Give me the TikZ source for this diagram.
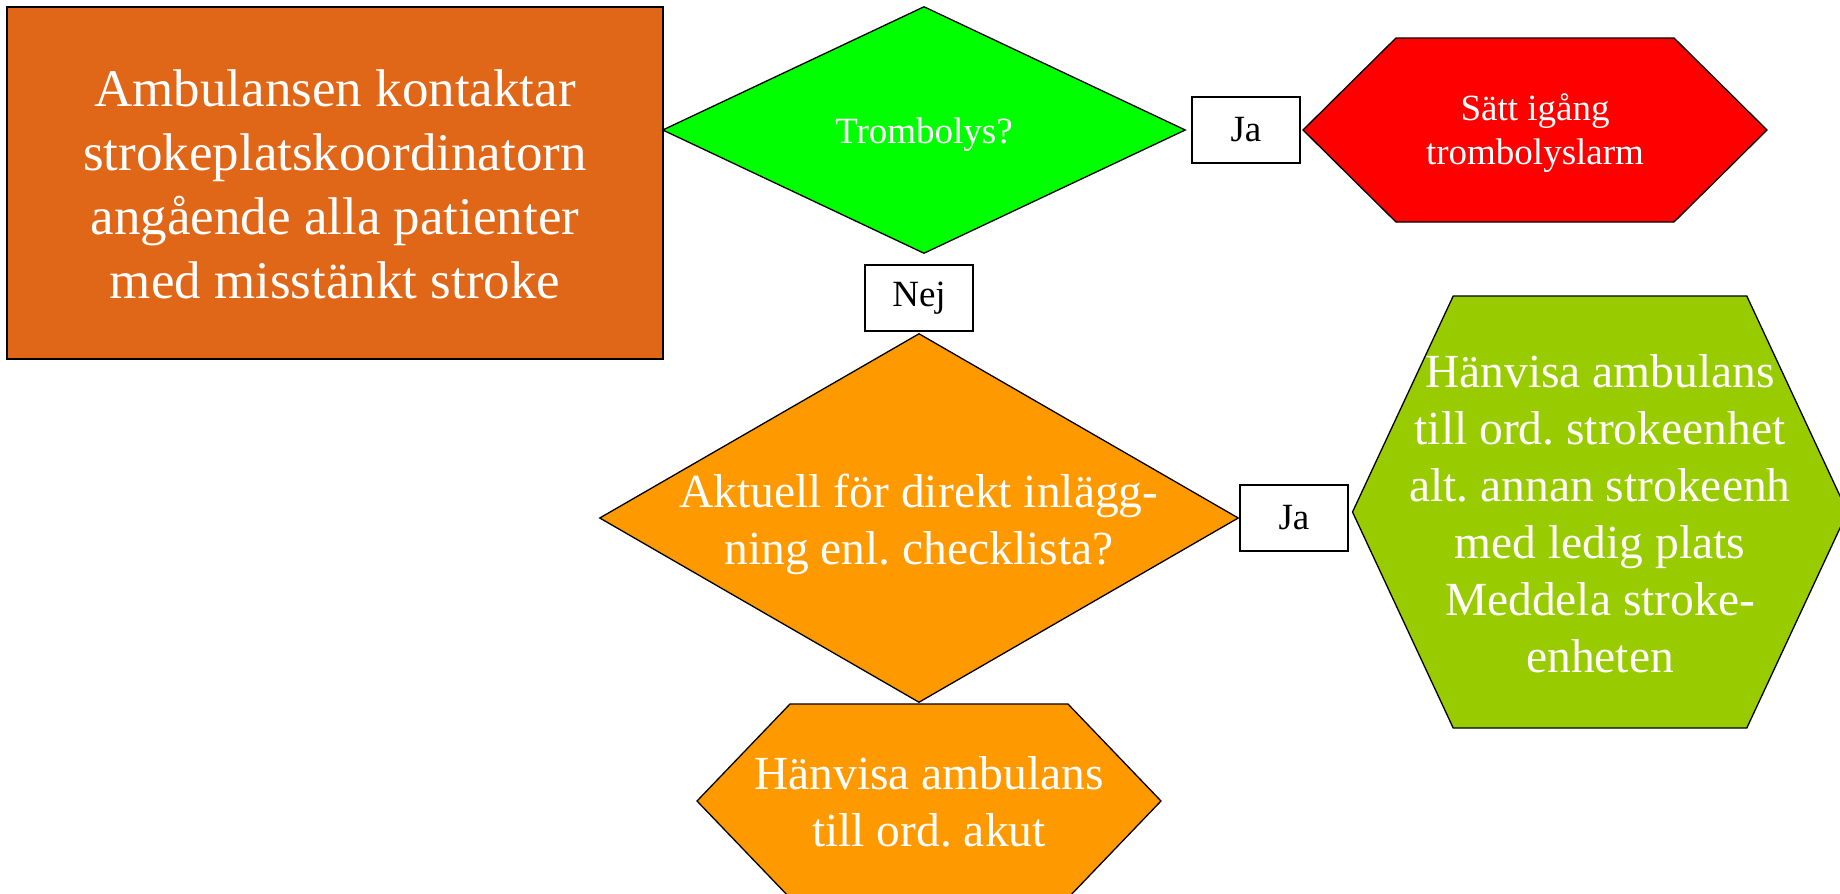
\documentclass[tikz,border=0pt]{standalone}
\usepackage{fontspec}
\setmainfont{Liberation Serif}
\usepackage{xcolor}
\usepackage{tikz}
\usetikzlibrary{shapes.geometric,shapes.symbols}
\frenchspacing

\definecolor{rustorange}{RGB}{224,102,24}
\definecolor{brightgreen}{RGB}{0,255,0}
\definecolor{alarmred}{RGB}{255,0,0}
\definecolor{amber}{RGB}{255,153,0}
\definecolor{limegreen}{RGB}{153,204,0}

\begin{document}
\begin{tikzpicture}[x=1pt, y=-1pt,
  startbox/.style={rectangle, draw=black, line width=1.3pt, text=white, align=center, inner sep=0pt},
  decision/.style={diamond, draw=black, line width=1.3pt, text=white, align=center, inner sep=0pt},
  hexa/.style={signal, signal to=west and east, draw=black, line width=1.3pt, text=white, align=center, inner sep=0pt},
  answer/.style={rectangle, draw=black, line width=1.3pt, fill=white, minimum width=108pt, minimum height=66pt, font=\fontsize{37}{44}\selectfont},
  bigtext/.style={font=\fontsize{47.5}{57}\selectfont},
  smalltext/.style={font=\fontsize{37}{44}\selectfont}]
\useasboundingbox (0,0) rectangle (1840,894);

\node [startbox, fill=rustorange, minimum width=656pt, minimum height=352pt, font=\fontsize{53}{64}\selectfont, text height=230pt, text depth=0pt] (start) at (335,183) {Ambulansen kontaktar\\strokeplatskoordinatorn\\angående alla patienter\\med misstänkt stroke};

\node [decision, smalltext, fill=brightgreen, aspect=2.1, minimum width=523pt, minimum height=247pt, text height=26pt, text depth=0pt] (tromb) at (924,130) {Trombolys?};
\node [answer, right of=tromb, node distance=322pt] (ja1) {Ja};
\node [hexa, smalltext, fill=alarmred, minimum width=464pt, minimum height=184pt, signal pointer angle=89.4, text height=68pt, text depth=0pt] (larm) at (1535,130) {Sätt igång\\trombolyslarm};

\node [decision, bigtext, fill=amber, aspect=1.73, minimum width=639pt, minimum height=369pt, inner sep=-20pt, text height=92pt, text depth=0pt] (akt) at (919,518) {Aktuell för direkt inlägg-\\ning enl. checklista?};
\node [answer, above of=akt, node distance=220pt] (nej) {Nej};
\node [answer, right of=akt, node distance=375pt] (ja2) {Ja};

\node [hexa, bigtext, fill=limegreen, minimum width=495pt, minimum height=432pt, signal pointer angle=130, inner xsep=-60pt, text height=320pt, text depth=0pt] (enhet) at (1600,512) {Hänvisa ambulans\\till ord. strokeenhet\\alt. annan strokeenh\\med ledig plats\\Meddela stroke-\\enheten};
\node [hexa, bigtext, fill=amber, minimum width=464pt, minimum height=194pt, signal pointer angle=92.4, inner xsep=-45pt, text height=90pt, text depth=0pt] (akut) at (929,801) {Hänvisa ambulans\\till ord. akut};
\end{tikzpicture}
\end{document}
